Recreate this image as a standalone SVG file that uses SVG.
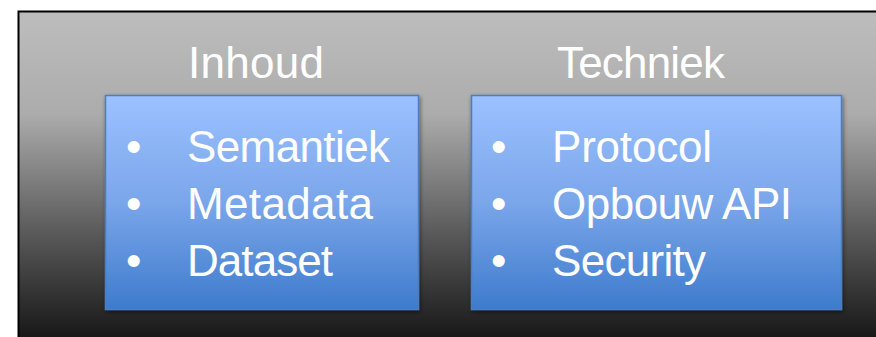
<svg xmlns="http://www.w3.org/2000/svg" width="876" height="337" viewBox="0 0 876 337">
<defs>
<linearGradient id="bg" x1="0" y1="0" x2="0" y2="1">
<stop offset="0" stop-color="#bdbdbd"/>
<stop offset="0.3" stop-color="#acacac"/>
<stop offset="0.65" stop-color="#5a5a5a"/>
<stop offset="1" stop-color="#0f0f0f"/>
</linearGradient>
<linearGradient id="blue" x1="0" y1="0" x2="0" y2="1">
<stop offset="0" stop-color="#9cc1ff"/>
<stop offset="0.5" stop-color="#7aa6ea"/>
<stop offset="1" stop-color="#3e7bcc"/>
</linearGradient>
<filter id="sh" x="-10%" y="-10%" width="120%" height="120%">
<feGaussianBlur in="SourceAlpha" stdDeviation="2"/>
<feOffset dx="1" dy="2"/>
<feComponentTransfer><feFuncA type="linear" slope="0.5"/></feComponentTransfer>
<feMerge><feMergeNode/><feMergeNode in="SourceGraphic"/></feMerge>
</filter>
</defs>
<style>
.t{font-family:"Liberation Sans",Arial,sans-serif;font-size:44px;fill:#ffffff}
.box{fill:url(#blue);stroke:#4b7dbf;stroke-width:1.5}
</style>
<rect x="0" y="0" width="876" height="337" fill="#ffffff"/>
<g id="background">
<rect x="18.5" y="11.5" width="870" height="340" fill="url(#bg)" stroke="#000000" stroke-width="2"/>
</g>
<g id="inhoud">
<text class="t" x="256" y="78" text-anchor="middle" textLength="136">Inhoud</text>
<rect class="box" x="105.5" y="95.5" width="313" height="214" filter="url(#sh)"/>
<text class="t" x="126" y="162">•</text>
<text class="t" x="187" y="162" textLength="203">Semantiek</text>
<text class="t" x="126" y="219">•</text>
<text class="t" x="187" y="219" textLength="186">Metadata</text>
<text class="t" x="126" y="276">•</text>
<text class="t" x="187" y="276" textLength="146">Dataset</text>
</g>
<g id="techniek">
<text class="t" x="641" y="78" text-anchor="middle" textLength="168">Techniek</text>
<rect class="box" x="471.5" y="95.5" width="370" height="214" filter="url(#sh)"/>
<text class="t" x="491" y="162">•</text>
<text class="t" x="552" y="162" textLength="160">Protocol</text>
<text class="t" x="491" y="219">•</text>
<text class="t" x="552" y="219" textLength="240">Opbouw API</text>
<text class="t" x="491" y="276">•</text>
<text class="t" x="552" y="276" textLength="154">Security</text>
</g>
<g id="connectors"/>
</svg>
